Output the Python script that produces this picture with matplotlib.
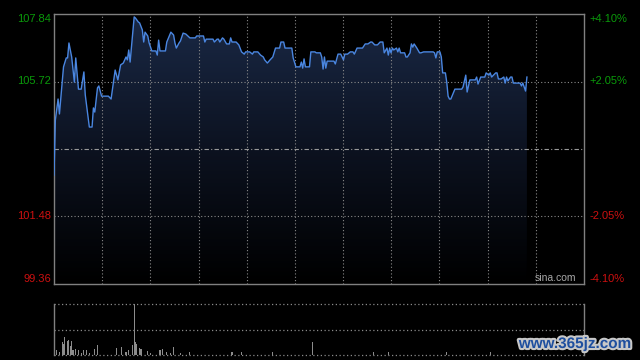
import numpy as np
import matplotlib
matplotlib.use('Agg')
import matplotlib.pyplot as plt
from matplotlib.colors import LinearSegmentedColormap
import matplotlib.patheffects as pe

# ---- data ----
minutes = [0, 1, 3, 4, 6, 7, 9, 10, 11, 13, 15, 16, 18, 20, 22, 23, 26, 28, 29, 30,
           32, 33, 35, 40, 42, 45, 47, 49, 51, 53, 54, 55, 56, 59, 60, 62, 63, 65, 66, 67,
           69, 70, 72, 75, 76, 77, 78, 82, 83, 86, 88, 89, 90, 92, 93, 95, 97, 100, 104, 105,
           110, 111, 112, 117, 118, 120, 121, 122, 124, 125, 127, 129, 130, 131, 134, 136, 138, 140, 141, 144,
           146, 147, 150, 152, 154, 155, 157, 159, 161, 163, 166, 167, 169, 170, 175, 176, 178, 181, 182, 183,
           184, 185, 188, 189, 192, 193, 196, 197, 198, 199, 200, 201, 206, 207, 209, 211, 213, 214, 216, 218,
           220, 221, 223, 227, 229, 231, 233, 234, 236, 238, 240, 242, 243, 245, 246, 247, 248, 249, 250, 252,
           253, 254, 255, 258, 259, 260, 262, 263, 264, 265, 267, 269, 270, 272, 279, 280, 281, 282, 284, 285,
           286, 288, 289, 290, 291, 292, 295, 300, 301, 303, 304, 306, 310, 311, 312, 314, 317, 318, 320, 321,
           322, 325, 326, 327, 329, 331, 332, 333, 334, 336, 337, 338, 339, 343, 344, 345, 347, 348]
prices = [102.78, 104.51, 105.17, 104.70, 105.67, 106.18, 106.46, 106.46, 106.93, 106.49,
          105.70, 106.46, 105.48, 105.48, 106.02, 105.30, 104.29, 104.29, 104.89, 104.76,
          105.52, 105.58, 105.26, 105.26, 105.17, 106.08, 105.77, 106.24, 106.30, 106.49,
          106.40, 106.71, 106.33, 107.75, 107.71, 107.59, 107.56, 107.34, 106.96, 107.27,
          107.15, 106.93, 106.68, 106.68, 106.55, 107.02, 106.68, 106.68, 106.96, 107.27,
          107.18, 106.93, 106.77, 106.93, 106.99, 107.24, 107.21, 107.09, 107.09, 107.15,
          107.15, 106.96, 107.05, 107.05, 106.96, 107.05, 107.05, 106.96, 107.09, 107.05,
          106.90, 106.90, 107.09, 106.96, 106.96, 106.87, 106.65, 106.58, 106.65, 106.65,
          106.58, 106.65, 106.65, 106.55, 106.49, 106.40, 106.30, 106.40, 106.49, 106.77,
          106.77, 106.96, 106.96, 106.77, 106.77, 106.46, 106.18, 106.18, 106.33, 106.14,
          106.43, 106.18, 106.18, 106.65, 106.65, 106.62, 106.62, 106.49, 106.11, 106.49,
          106.14, 106.36, 106.36, 106.27, 106.58, 106.58, 106.40, 106.58, 106.58, 106.65,
          106.65, 106.58, 106.77, 106.77, 106.90, 106.90, 106.96, 106.96, 106.87, 106.87,
          106.96, 106.96, 106.62, 106.77, 106.55, 106.77, 106.62, 106.77, 106.71, 106.77,
          106.65, 106.77, 106.62, 106.62, 106.49, 106.49, 106.62, 106.90, 106.80, 106.90,
          106.77, 106.62, 106.62, 106.65, 106.65, 106.62, 106.46, 106.65, 106.65, 106.49,
          105.99, 105.99, 105.70, 105.26, 105.17, 105.17, 105.48, 105.48, 105.55, 105.92,
          105.39, 105.77, 105.77, 105.86, 105.64, 105.86, 105.86, 105.99, 105.92, 105.99,
          105.86, 105.99, 105.99, 105.80, 105.80, 105.86, 105.67, 105.86, 105.74, 105.86,
          105.86, 105.67, 105.67, 105.67, 105.58, 105.67, 105.42, 105.86]

vol_minutes = [2, 4, 6, 7, 8, 10, 11, 12, 13, 14, 16, 18, 20, 22, 24, 26, 30, 32, 46, 50,
               53, 55, 58, 59, 60, 61, 63, 64, 69, 71, 78, 80, 83, 86, 88, 93, 100, 131, 138, 161,
               190, 235, 246, 289, 321]
volumes = [5, 3, 13, 11, 18, 14, 15, 9, 14, 5, 6, 5, 2, 5, 5, 2, 6, 10, 7, 8,
           3, 5, 10, 50, 13, 11, 7, 6, 4, 2, 5, 6, 3, 2, 8, 2, 3, 3, 3, 3,
           13, 3, 3, 3, 3]

prev_close = 103.60
price_ticks = [99.36, 101.48, 105.72, 107.84]
price_labels = ['99.36', '101.48', '105.72', '107.84']
pct_labels = ['-4.10%', '-2.05%', '+2.05%', '+4.10%']
y_min, y_max = 99.36, 107.84
total_minutes = 390
n_vgrid = 11

# ---- styling ----
BG = 'black'
LINE = '#4a86e0'
GRID = '#8a8a8a'
SPINE = '#808080'
GREEN = '#0a9a0a'
RED = '#cc1010'
FONT = ['Liberation Sans', 'DejaVu Sans']
plt.rcParams['font.family'] = FONT

fig = plt.figure(figsize=(6.4, 3.6), dpi=100, facecolor=BG)
ax = fig.add_axes([54/640, 1-284/360, 530/640, 270/360], facecolor=BG)
axv = fig.add_axes([54/640, 1-355/360, 530/640, 51/360], facecolor=BG)

# gradient fill under line
x = np.array(minutes, dtype=float)
y = np.array(prices)
poly = ax.fill_between(x, y, y_min, color='none', lw=0)
cmap = LinearSegmentedColormap.from_list('g', ['#000000', '#0c1220', '#1a2946'])
grad = np.linspace(0, 1, 256).reshape(-1, 1)
im = ax.imshow(grad, extent=[x[0], x[-1], y_min, y_max], origin='lower',
               aspect='auto', cmap=cmap, zorder=1)
im.set_clip_path(poly.get_paths()[0], transform=ax.transData)

# grid
grid_ls = (0, (1, 2))
for gx in np.linspace(0, total_minutes, n_vgrid + 1)[1:-1]:
    ax.axvline(gx, color=GRID, lw=0.8, ls=grid_ls, zorder=2)
for t in price_ticks[1:-1]:
    ax.axhline(t, color=GRID, lw=0.8, ls=grid_ls, zorder=2)
ax.axhline(prev_close, color='#9a9a9a', lw=0.8, ls=(0, (4, 2, 1, 2)), zorder=2)

ax.plot(x, y, color=LINE, lw=1.0, zorder=3)

ax.set_xlim(0, total_minutes)
ax.set_ylim(y_min, y_max)
ax.set_xticks([])
ax.set_yticks([])
for s in ax.spines.values():
    s.set_color(SPINE)
    s.set_linewidth(1.0)

tr = ax.get_yaxis_transform()
for i, (t, lab, pl) in enumerate(zip(price_ticks, price_labels, pct_labels)):
    col = GREEN if t > prev_close else RED
    va = 'center'
    if i == 0:
        va = 'bottom'
    elif i == len(price_ticks) - 1:
        va = 'top'
    ax.text(-0.006, t, lab, transform=tr, ha='right', va=va, color=col, fontsize=8)
    ax.text(1.011, t, pl, transform=tr, ha='left', va=va, color=col, fontsize=8)

ax.text(0.985, 0.005, 'sina.com', transform=ax.transAxes, ha='right', va='bottom',
        color='#a8a8a8', fontsize=7.5, zorder=4)

# volume
vmax = max(volumes)
axv.bar(vol_minutes, volumes, width=0.8, color='#8c8c8c', lw=0)
axv.set_xlim(0, total_minutes)
axv.set_ylim(0, vmax)
axv.set_xticks([])
axv.set_yticks([])
for side in ['top', 'bottom']:
    axv.spines[side].set_visible(False)
for side in ['left', 'right']:
    axv.spines[side].set_color(SPINE)
    axv.spines[side].set_linewidth(1.0)
for gy in [0, vmax / 2, vmax]:
    axv.axhline(gy, color=GRID, lw=0.9, ls=grid_ls, clip_on=False)

fig.text(575/640, 1-344/360, 'www.365jz.com', ha='center', va='center',
         color='#1f4f9f', fontsize=11, fontweight='bold',
         path_effects=[pe.Stroke(linewidth=3, foreground='#c8c8c8'), pe.Normal()])

fig.savefig('out.png', dpi=100, facecolor=BG)
